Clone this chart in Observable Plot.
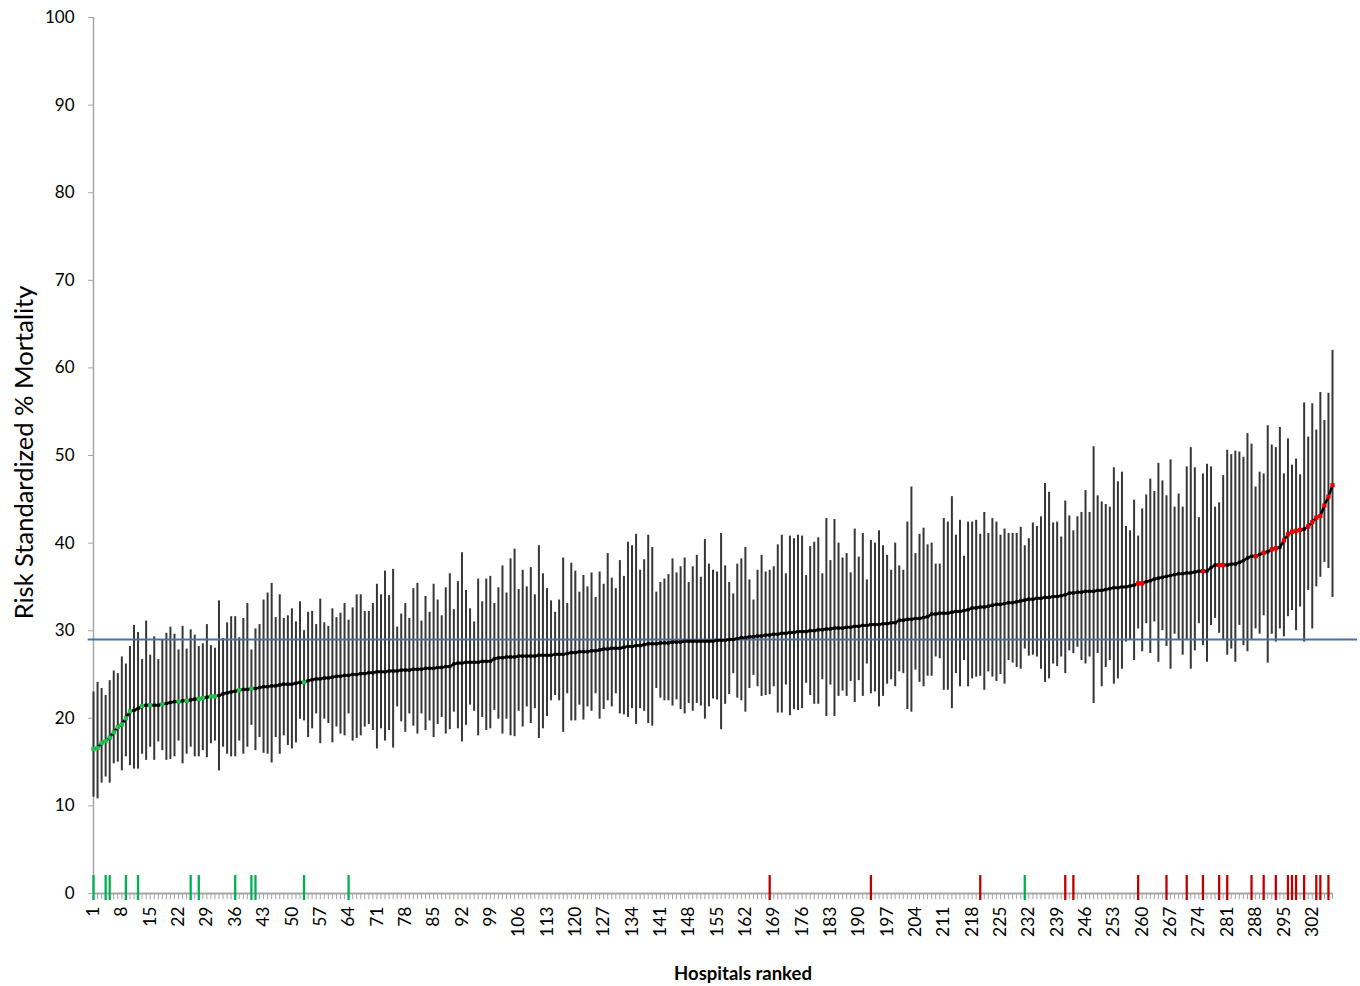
<!DOCTYPE html>
<html>
<head>
<meta charset="utf-8">
<script src="https://cdn.jsdelivr.net/npm/d3@7"></script>
<script src="https://cdn.jsdelivr.net/npm/@observablehq/plot@0.6"></script>
<style>
  html, body { margin: 0; padding: 0; background: #fff; }
  #chart svg { display: block; }
</style>
</head>
<body>
<div id="chart"></div>
<script>
// Risk-standardized mortality estimate per ranked hospital
const estimates = [
  16.5,16.6,17.2,17.4,17.8,18.4,19.0,19.3,20.0,20.8,
  20.9,21.1,21.4,21.5,21.5,21.5,21.5,21.6,21.7,21.8,
  21.9,21.9,22.0,22.0,22.1,22.2,22.2,22.3,22.4,22.5,
  22.5,22.6,22.8,22.9,23.0,23.1,23.2,23.3,23.3,23.4,
  23.4,23.5,23.6,23.6,23.7,23.7,23.8,23.9,23.9,23.9,
  24.0,24.1,24.1,24.3,24.4,24.5,24.5,24.6,24.6,24.7,
  24.8,24.8,24.9,24.9,25.0,25.0,25.1,25.1,25.2,25.2,
  25.3,25.3,25.3,25.4,25.4,25.4,25.5,25.5,25.5,25.6,
  25.6,25.6,25.7,25.7,25.7,25.8,25.8,25.9,25.9,26.2,
  26.3,26.3,26.4,26.4,26.4,26.4,26.5,26.5,26.5,26.8,
  26.9,26.9,27.0,27.0,27.0,27.1,27.1,27.1,27.1,27.1,
  27.2,27.2,27.2,27.2,27.3,27.3,27.3,27.4,27.5,27.5,
  27.6,27.6,27.6,27.7,27.7,27.8,27.9,27.9,28.0,28.0,
  28.0,28.1,28.2,28.2,28.3,28.3,28.4,28.5,28.5,28.5,
  28.6,28.6,28.6,28.7,28.7,28.7,28.8,28.8,28.8,28.8,
  28.8,28.8,28.8,28.8,28.9,28.9,28.9,29.0,29.0,29.1,
  29.2,29.2,29.3,29.3,29.4,29.4,29.5,29.5,29.6,29.6,
  29.7,29.7,29.8,29.8,29.9,29.9,29.9,30.0,30.0,30.1,
  30.1,30.2,30.2,30.3,30.3,30.3,30.4,30.4,30.5,30.5,
  30.6,30.6,30.7,30.7,30.7,30.8,30.8,30.9,30.9,31.2,
  31.2,31.3,31.3,31.4,31.4,31.5,31.6,31.9,31.9,32.0,
  32.0,32.0,32.1,32.2,32.2,32.3,32.4,32.6,32.6,32.7,
  32.7,32.8,32.9,33.0,33.0,33.1,33.2,33.2,33.3,33.4,
  33.5,33.6,33.6,33.7,33.7,33.8,33.8,33.9,33.9,34.0,
  34.1,34.3,34.3,34.4,34.4,34.5,34.5,34.5,34.6,34.6,
  34.7,34.8,34.9,34.9,35.0,35.0,35.1,35.2,35.4,35.4,
  35.6,35.7,35.9,36.0,36.1,36.2,36.3,36.4,36.5,36.5,
  36.6,36.6,36.7,36.8,36.8,36.8,37.2,37.5,37.5,37.5,
  37.5,37.6,37.6,37.8,38.0,38.3,38.5,38.5,38.7,38.9,
  39.0,39.3,39.4,39.5,40.3,41.0,41.3,41.4,41.5,41.6,
  41.9,42.4,42.9,43.1,44.3,45.3,46.6
];

// Lower confidence limits
const lows = [
  11.0,10.8,12.6,13.3,12.6,14.8,15.0,14.0,15.6,14.6,
  14.2,14.2,15.9,15.2,16.7,15.2,17.3,16.3,15.2,15.3,
  15.6,17.4,14.8,15.9,16.7,15.6,15.6,16.3,15.5,17.1,
  17.4,14.0,16.7,15.9,15.6,15.6,17.4,15.9,16.7,19.2,
  16.3,17.8,16.0,15.9,14.9,17.8,15.9,18.0,16.9,16.5,
  17.2,
  19.9,19.7,17.8,18.8,20.5,17.1,19.9,19.4,17.2,19.0,
  18.2,18.0,20.5,17.4,17.7,18.0,19.0,19.3,18.6,16.5,
  18.8,17.4,18.6,16.6,21.3,19.6,18.4,20.5,19.1,18.2,
  20.5,18.6,19.7,17.8,19.3,20.1,18.2,18.7,20.7,18.8,
  17.3,19.2,21.5,20.8,18.0,20.1,18.6,18.8,20.9,19.9,
  18.2,19.9,
  18.0,17.9,20.8,19.0,21.3,19.4,21.1,17.7,18.8,20.2,
  22.0,22.6,22.0,18.4,22.8,19.7,19.7,21.5,19.8,21.3,
  20.8,22.8,19.9,21.0,22.0,21.3,22.8,20.5,20.4,20.1,
  21.1,19.3,21.1,20.8,19.4,19.1,23.4,22.3,22.0,22.0,
  21.4,22.1,21.0,20.5,21.7,20.8,21.7,21.4,19.9,21.3,
  22.2,
  22.1,18.7,21.6,22.7,25.1,22.3,22.0,20.7,23.4,24.9,
  23.6,22.5,22.6,22.7,23.6,20.6,20.6,23.8,20.3,21.0,
  20.9,21.1,24.0,22.6,21.6,21.6,24.4,20.2,23.8,20.2,
  22.5,23.1,22.5,24.2,21.8,24.3,22.5,26.2,22.8,23.0,
  21.3,22.5,23.9,24.4,23.6,25.3,25.1,21.0,20.7,25.5,
  24.1,23.6,
  24.8,24.8,27.0,26.8,23.2,23.2,21.1,25.1,23.6,26.6,
  23.6,24.5,24.7,24.8,23.2,25.3,24.7,24.2,25.0,23.9,
  26.6,26.3,25.8,25.6,27.9,27.1,27.2,27.0,25.6,24.1,
  24.5,26.2,25.9,27.0,25.1,27.7,27.4,28.1,26.6,26.2,
  27.0,21.7,27.4,23.6,25.8,26.6,23.9,24.5,25.6,28.7,
  28.9,26.6,
  30.2,27.6,30.8,27.4,31.0,26.4,30.0,28.2,25.6,29.6,
  28.9,27.2,28.9,25.6,27.7,30.8,28.3,26.4,30.6,31.4,
  29.7,29.0,27.2,27.9,26.4,30.6,28.3,27.6,28.9,30.2,
  29.6,31.7,26.3,29.6,28.7,30.2,29.3,31.6,32.3,30.0,
  32.7,28.7,34.6,30.2,35.0,36.1,37.8,37.1,33.8
];

// Upper confidence limits
const highs = [
  23.0,24.1,23.4,22.6,24.3,25.4,25.1,27.0,26.2,28.2,
  30.6,29.8,26.7,31.1,27.2,29.3,26.7,28.9,29.7,30.4,
  29.6,27.8,30.5,27.9,30.1,29.5,28.2,28.5,30.7,28.3,
  28.0,33.4,29.1,30.9,31.6,31.6,29.2,31.4,33.1,27.8,
  30.2,30.7,33.5,34.3,35.4,31.5,34.1,31.4,31.7,32.5,
  31.0,
  33.3,30.0,32.1,32.2,30.7,33.6,30.9,30.5,32.5,31.5,
  32.0,33.1,31.2,32.6,34.1,34.1,32.2,32.2,33.1,35.3,
  34.1,36.8,34.0,37.0,30.4,31.9,33.1,31.4,34.8,35.4,
  31.1,33.9,32.1,35.3,33.5,31.7,34.9,36.5,32.4,35.6,
  38.9,34.6,32.5,31.0,35.9,33.3,35.9,36.2,33.1,34.9,
  37.4,34.3,
  38.2,39.3,34.7,36.9,35.0,37.2,34.1,39.7,36.5,34.8,
  33.4,32.1,33.5,38.3,33.1,37.7,36.8,34.4,36.3,35.0,
  36.6,33.8,36.7,35.3,38.8,36.0,34.8,38.0,36.2,40.1,
  39.7,41.0,36.9,38.1,40.9,39.5,34.4,35.5,35.9,36.4,
  38.2,36.6,37.3,38.3,35.5,37.3,38.6,36.1,40.4,37.6,
  36.9,
  36.7,41.1,37.4,35.5,34.2,37.6,38.2,39.5,35.8,33.5,
  36.9,38.6,36.7,36.9,37.3,39.8,40.9,36.5,40.8,40.5,
  40.9,40.8,36.3,39.6,40.1,40.6,36.5,42.8,38.0,42.7,
  40.0,38.3,38.8,36.6,41.6,38.4,41.1,35.8,40.3,40.0,
  41.4,39.7,38.6,36.9,40.0,37.4,36.9,42.4,46.4,38.8,
  41.0,41.7,
  39.8,40.0,37.6,37.6,42.8,42.4,45.3,40.9,42.6,38.5,
  42.4,42.4,42.6,41.0,43.5,41.1,42.8,42.4,40.9,41.6,
  41.1,41.1,41.1,41.8,39.7,40.5,42.3,41.9,43.0,46.8,
  45.8,42.3,42.4,40.7,44.8,43.1,41.4,43.0,43.5,46.0,
  43.5,51.0,45.4,44.7,44.4,44.1,48.6,47.0,48.1,41.9,
  41.4,44.9,
  40.8,43.9,45.5,47.3,45.9,49.1,47.1,45.4,49.5,44.1,
  45.6,44.1,48.7,50.9,48.6,42.9,47.9,49.0,48.7,44.1,
  44.6,47.7,50.6,50.1,50.5,50.4,49.8,52.5,51.3,46.4,
  48.1,47.9,53.4,51.2,50.9,53.2,47.9,51.9,48.9,49.6,
  47.8,56.0,52.1,55.9,52.9,57.2,54.0,57.1,62.0
];

// Ranks whose estimate marker is highlighted
const greenRanks = [1,2,3,4,5,6,7,8,9,10,13,15,18,22,24,27,28,30,31,37,40,53];
const redRanks = [259,260,275,279,280,288,290,292,293,295,296,297,298,299,301,302,303,304,305,306,307];

// Flag markers drawn on the baseline
const greenFlags = [1,4,5,9,12,25,27,36,40,41,53,64,231];
const redFlags = [168,193,220,241,243,259,266,271,275,279,281,287,290,293,296,297,298,300,303,304,306];

// Reference (overall) mortality
const overallRate = [29.0];

// Axis ticks
const xTickLabels = [1,8,15,22,29,36,43,50,57,64,71,78,85,92,99,106,113,120,127,134,141,148,155,162,169,176,183,190,197,204,211,218,225,232,239,246,253,260,267,274,281,288,295,302];
const yTickLabels = [0,10,20,30,40,50,60,70,80,90,100];

const rows = estimates.map((e, i) => ({rank: i + 1, est: e, lo: lows[i], hi: highs[i]}));
const ranks = rows.map(d => d.rank);
const greenSet = new Set(greenRanks), redSet = new Set(redRanks);

const chart = Plot.plot({
  width: 1360,
  height: 986,
  marginLeft: 93,
  marginRight: 28,
  marginTop: 17,
  marginBottom: 93,
  style: {fontFamily: "Lato, 'Open Sans', sans-serif", fontSize: "16px", background: "#fff", color: "#000"},
  x: {type: "linear", domain: [1, ranks.length]},
  y: {type: "linear", domain: [0, 100]},
  marks: [
    // y axis line
    Plot.ruleX([1], {y1: 0, y2: 100, stroke: "#a6a6a6", strokeWidth: 1.5}),
    // confidence intervals
    Plot.ruleX(rows, {x: "rank", y1: "lo", y2: "hi", stroke: "#363636", strokeWidth: 2}),
    // overall rate
    Plot.ruleY(overallRate, {x1: -0.3, x2: 313.2, stroke: "#4a72a6", strokeWidth: 2}),
    // x axis line and minor ticks
    Plot.ruleY([0], {stroke: "#a6a6a6", strokeWidth: 2}),
    Plot.ruleX(ranks, {x: d => d, y1: 0, y2: -0.7, stroke: "#a6a6a6", strokeWidth: 1}),
    // flags
    Plot.ruleX(greenFlags, {x: d => d, y1: -0.8, y2: 2.05, stroke: "#00b050", strokeWidth: 2.3}),
    Plot.ruleX(redFlags, {x: d => d, y1: -0.8, y2: 2.05, stroke: "#c00000", strokeWidth: 2.3}),
    // estimate line and markers
    Plot.line(rows, {x: "rank", y: "est", stroke: "#000", strokeWidth: 2.5}),
    Plot.dot(rows, {x: "rank", y: "est", symbol: "square", fill: "#000", r: 1.8}),
    Plot.dot(rows.filter(d => greenSet.has(d.rank)), {x: "rank", y: "est", symbol: "square", fill: "#22c04f", r: 2.4}),
    Plot.dot(rows.filter(d => redSet.has(d.rank)), {x: "rank", y: "est", symbol: "square", fill: "#ee0000", r: 2.4}),
    // axes
    Plot.axisY({ticks: yTickLabels, tickSize: 5, tickFormat: () => "", stroke: "#a6a6a6", label: null}),
    Plot.axisY({ticks: yTickLabels, tickSize: 0, tickPadding: 19, fontSize: 17, label: null}),
    Plot.axisX({ticks: xTickLabels, tickSize: 0, tickPadding: 13, tickRotate: -90, fontSize: 17.5, label: null}),
    // titles
    Plot.text(["Risk Standardized % Mortality"], {frameAnchor: "left", textAnchor: "middle", dx: -69, dy: -3, rotate: -90, fontSize: 25.5}),
    Plot.text(["Hospitals ranked"], {frameAnchor: "bottom", textAnchor: "middle", dx: 30, dy: 86, fontWeight: "bold", fontSize: 18.5})
  ]
});
document.getElementById("chart").appendChild(chart);
</script>
</body>
</html>
